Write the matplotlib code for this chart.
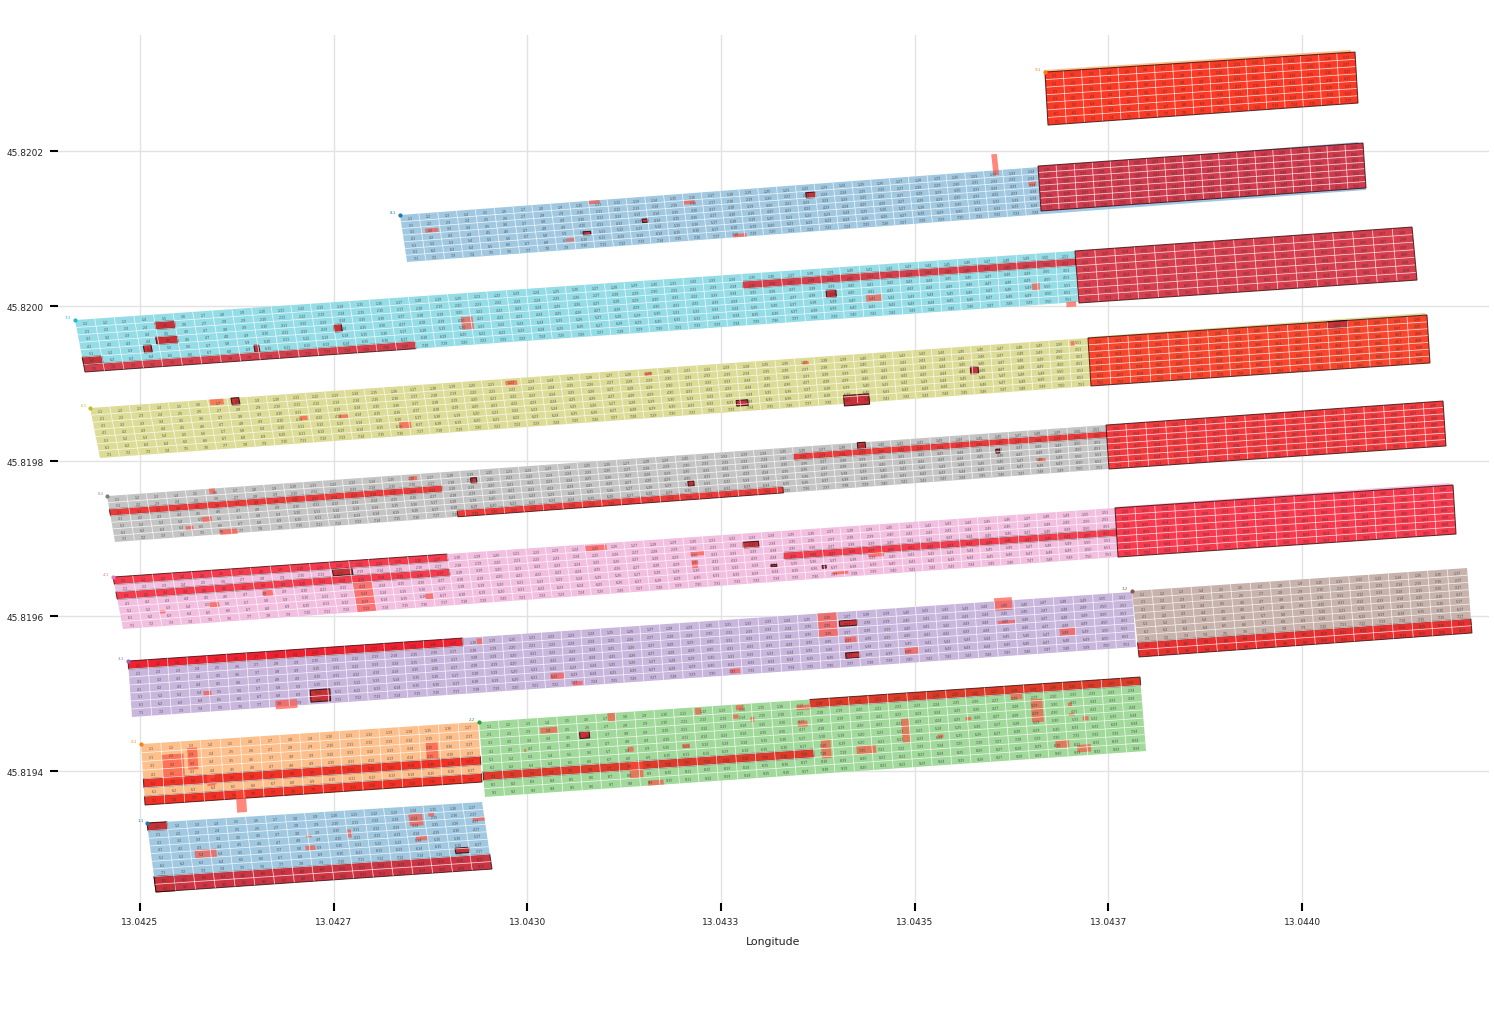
import math
import matplotlib
matplotlib.use("Agg")
import matplotlib.pyplot as plt
from matplotlib.patches import Polygon
from matplotlib.collections import LineCollection

# ---- block table: name, grid size, first column number, fill colour, hot colour
block_names = ["u_blue", "u_cyan_none", "u_yellow", "u_pink", "u_orange",
               "blue8", "cyan7", "yellow6", "grey5", "pink4", "purple3", "brown3b",
               "orange2", "blue1", "green2b",
               "blue8r", "cyan7r", "yellow6r", "grey5r", "pink4r", "orange9r"]
block_rows = [0, 0, 0, 0, 0,
              7, 7, 7, 7, 7, 7, 9,
              7, 9, 9,
              7, 7, 7, 7, 7, 7]
block_cols = [0, 0, 0, 0, 0,
              34, 51, 51, 51, 51, 51, 17,
              17, 17, 34,
              18, 17, 17, 17, 17, 17]
block_first = [1, 1, 1, 1, 1,
               1, 1, 1, 1, 1, 1, 1,
               1, 1, 1,
               35, 52, 52, 52, 52, 1]
block_fill = ["#a0c8e2", "#ffffff", "#dcdc96", "#f3bfe0", "#fdc08c",
              "#a0c8e0", "#94dce6", "#dcdc96", "#c4c4c4", "#f3bfe0", "#c9b6dc", "#c7b3ac",
              "#fdc08c", "#a0c8e0", "#a1d99b",
              "#cf3a4c", "#d83f4e", "#f8452c", "#f23a3e", "#f83a4e", "#fb3a26"]
block_hot = ["#cc3348", "#d63e4c", "#f44a2a", "#f83a4e", "#f93a1e",
             "#cc3348", "#d63e4c", "#f44a2a", "#ef3838", "#f83a4e", "#ef2030", "#e83030",
             "#f23024", "#cc3444", "#dd3a28",
             "#cc3348", "#d63e4c", "#f01010", "#ef3838", "#f83a4e", "#f93a1e"]

# corners in longitude / latitude
lon_tl = [13.0436592, 13.0437069, 13.0437237, 13.0437586, 13.0436669,
          13.0428356, 13.0424161, 13.0424355, 13.0424574, 13.0424651, 13.0424845, 13.0437805,
          13.0425013, 13.0425090, 13.0429376,
          13.0436592, 13.0437069, 13.0437237, 13.0437470, 13.0437586, 13.0436682]
lat_tl = [45.8201794, 45.8200710, 45.8199600, 45.8197407, 45.8203045,
          45.8201174, 45.8199819, 45.8198684, 45.8197548, 45.8196503, 45.8195419, 45.8196323,
          45.8194348, 45.8193329, 45.8194632,
          45.8201806, 45.8200710, 45.8199587, 45.8198464, 45.8197394, 45.8203019]
lon_tr = [13.0440723, 13.0437069, 13.0441580, 13.0441885, 13.0440632,
          13.0436618, 13.0437069, 13.0437237, 13.0437470, 13.0437586, 13.0437805, 13.0442130,
          13.0429363, 13.0429415, 13.0437909,
          13.0440787, 13.0441420, 13.0441613, 13.0441820, 13.0441949, 13.0440684]
lat_tr = [45.8202116, 45.8200710, 45.8199910, 45.8197715, 45.8203303,
          45.8201794, 45.8200710, 45.8199587, 45.8198464, 45.8197394, 45.8196310, 45.8196619,
          45.8194632, 45.8193600, 45.8195213,
          45.8202103, 45.8201019, 45.8199884, 45.8198774, 45.8197690, 45.8203277]
lon_br = [13.0440826, 13.0437069, 13.0441613, 13.0441949, 13.0440671,
          13.0436682, 13.0437108, 13.0437276, 13.0437508, 13.0437625, 13.0437857, 13.0442194,
          13.0429415, 13.0429544, 13.0437986,
          13.0440826, 13.0441484, 13.0441652, 13.0441858, 13.0441988, 13.0440723]
lat_br = [45.8201497, 45.8200710, 45.8199884, 45.8197690, 45.8202632,
          45.8201187, 45.8200052, 45.8198968, 45.8197897, 45.8196761, 45.8195600, 45.8195781,
          45.8193858, 45.8192735, 45.8194258,
          45.8201523, 45.8200335, 45.8199265, 45.8198194, 45.8197058, 45.8202619]
lon_bl = [13.0436682, 13.0437069, 13.0437237, 13.0437586, 13.0436721,
          13.0428447, 13.0424290, 13.0424484, 13.0424677, 13.0424781, 13.0424897, 13.0437896,
          13.0425065, 13.0425207, 13.0429453,
          13.0436631, 13.0437121, 13.0437276, 13.0437508, 13.0437625, 13.0436721]
lat_bl = [45.8201187, 45.8200710, 45.8199587, 45.8197394, 45.8202348,
          45.8200568, 45.8199148, 45.8198039, 45.8196955, 45.8195832, 45.8194697, 45.8195471,
          45.8193561, 45.8192439, 45.8193665,
          45.8201226, 45.8200039, 45.8198968, 45.8197897, 45.8196761, 45.8202335]

# block tags
tag_blocks = ["orange9r", "blue8", "cyan7", "yellow6", "grey5", "pink4", "purple3",
              "brown3b", "orange2", "blue1", "green2b"]
tag_texts = ["9-1", "8-1", "7-1", "6-1", "5-1", "4-1", "3-1", "3-2", "2-1", "1-1", "2-2"]
tag_colors = ["#ff7f0e", "#1f77b4", "#17becf", "#bcbd22", "#7f7f7f", "#e377c2", "#9467bd",
              "#8c564b", "#ff7f0e", "#1f77b4", "#2ca02c"]

# hot cells: (row from, row to, column from, column to, kind) in cell counts of the block
hot_blue8 = [(2.3, 2.9, 1.2, 1.9, "s"), (0, .5, 10, 10.6, "s"), (1, 1.6, 15, 15.6, "s"),
             (3.3, 3.8, 12.7, 13, "d"), (4.5, 5, 9.5, 9.9, "d"), (5.3, 5.8, 8.6, 9, "s"),
             (6.5, 7, 17.4, 18.1, "s"), (1.2, 2, 21.5, 22, "d"), (2.1, 2.7, 33.3, 33.7, "s"),
             (-2.4, .7, 31.5, 31.8, "s")]
hot_cyan7 = [(6, 7, 0, 17, "b"), (1, 2, 34, 51, "b"), (1, 2, 4, 5, "d"), (3, 4, 3.9, 5, "d"),
             (4, 5, 3.2, 3.6, "d"), (5, 6, 0, 1, "d"), (5, 6, 8.8, 9.05, "d"),
             (3, 4, 13, 13.4, "d"), (3.2, 4.9, 19.5, 20.1, "s"), (3, 4, 38.2, 38.7, "d"),
             (4, 5, 40.2, 41, "s"), (6.9, 7.6, 50.4, 50.9, "s"), (4, 5, 48.7, 49.1, "s")]
hot_yellow6 = [(0, .8, 6.1, 6.8, "s"), (0, 1, 7.2, 7.6, "d"), (3.2, 3.8, 10.5, 10.9, "s"),
               (3.4, 3.9, 12.5, 13, "s"), (.3, 1, 21.2, 21.8, "s"), (5, 6, 15.5, 16.1, "s"),
               (5.4, 6.2, 32.8, 33.4, "d"), (5.8, 7.3, 38.3, 39.6, "d"), (3, 4, 44.9, 45.3, "d"),
               (.3, 1, 50.1, 50.3, "s"), (.5, 1, 28.3, 28.7, "s"), (.5, 1, 36.4, 36.7, "s")]
hot_yellow6r = [(0, 1, 12, 13, "d")]
hot_grey5 = [(2, 3, 0, 17, "b"), (6, 7, 17.6, 34.3, "b"), (1, 2, 35, 51, "b"),
             (0, .8, 5.2, 5.5, "s"), (4.2, 5, 4.6, 5.1, "s"), (5.4, 6, 3.7, 4.1, "s"),
             (6.3, 7.1, 5.4, 6.3, "s"), (.3, 1, 15.4, 15.8, "s"), (1.2, 2, 18.5, 18.8, "d"),
             (4.1, 4.9, 29.5, 29.8, "d"), (0, 1, 38.3, 38.7, "d"), (2.6, 3.2, 45.3, 45.5, "d"),
             (4.5, 5.1, 47.4, 47.8, "s")]
hot_pink4 = [(0, 1, 0, 17, "b"), (2, 3, 0, 17, "b"), (3, 4, 34, 51, "b"), (3, 7, 12, 13, "s"),
             (3.2, 4, 7.4, 7.9, "s"), (4.3, 5, 4.6, 5.1, "s"), (4.9, 5.3, 2, 2.3, "s"),
             (5.2, 6, 15.6, 16, "s"), (1, 1.9, 11.1, 12.1, "d"), (.2, 1, 24, 25.1, "s"),
             (2, 2.6, 29.3, 30, "s"), (3.2, 4.3, 29.3, 29.6, "s"), (1.2, 2, 32, 32.8, "d"),
             (4.6, 4.9, 33.3, 33.6, "d"), (5.2, 5.6, 35.9, 36.1, "d"), (6.2, 6.6, 36.4, 37.2, "s"),
             (3.7, 4.5, 38.3, 39.1, "s")]
hot_purple3 = [(0, 1, 0, 17, "b"), (6.2, 7.3, 7.3, 8.4, "s"), (5.2, 6.7, 9.1, 10.1, "d"),
               (4.4, 5, 3.7, 4.1, "s"), (.2, .9, 17.7, 18, "s"), (0, 3, 35, 36, "s"),
               (1.1, 1.8, 36.1, 37, "d"), (3.2, 3.9, 36.3, 36.9, "s"), (5.2, 5.9, 36.3, 37, "d"),
               (5.1, 5.9, 39.3, 40, "s"), (-.4, 1.2, 44, 44.9, "s"), (2.5, 2.9, 44.1, 45, "s"),
               (4, 4.9, 47.2, 48, "s"), (5.2, 6, 21.3, 22, "s"), (6.4, 6.9, 22.4, 22.9, "s"),
               (6.2, 6.8, 30.4, 30.9, "s")]
hot_brown3b = [(7, 9, 0, 17, "b")]
hot_orange2 = [(4, 5, 0, 17, "b"), (6, 7, 0, 17, "b"), (1.4, 4.3, 1, 2.1, "s"),
               (.8, 3.3, 2.3, 2.8, "s"), (2, 3.9, 14.3, 14.9, "s"), (4, 5.3, 3.2, 3.6, "s"),
               (6, 8.6, 4.6, 5.1, "s")]
hot_blue1 = [(7, 9, 0, 17, "b"), (0, 1, 0, 1, "d"), (7, 9, 0, 1, "d"), (3.9, 5, 2.2, 3.3, "s"),
             (2.9, 3.2, 7.9, 8.2, "s"), (4.3, 4.9, 7.8, 8.3, "s"), (2.5, 3.6, 10, 10.2, "s"),
             (1, 2.6, 13.2, 13.9, "s"), (1, 1.5, 14.2, 14.5, "s"), (4, 4.6, 13.4, 14, "s"),
             (2, 2.5, 16.4, 17, "s"), (5.9, 6.6, 15.3, 16, "d")]
hot_green2b = [(6, 7, 0, 17, "b"), (0, 1, 17, 34, "b"), (0, 1, 6.6, 7, "s"), (1.2, 1.9, 3.1, 4, "s"),
               (2, 2.8, 5.1, 5.6, "d"), (3.6, 4, 2.2, 2.3, "s"), (4.2, 4.8, 7.5, 7.8, "s"),
               (4.3, 4.8, 10.3, 10.7, "s"), (.1, .9, 11.1, 11.4, "s"), (.1, .7, 13.2, 13.6, "s"),
               (1.2, 1.7, 13, 13.3, "s"), (1.6, 2.2, 13.9, 14.1, "s"), (.6, 1.2, 16.3, 17, "s"),
               (2.5, 3.2, 16.3, 16.8, "s"), (6, 8, 7.5, 8.2, "s"), (8.4, 9, 8.4, 9.2, "s"),
               (1, 1.7, 27.3, 27.9, "s"), (1.8, 4.6, 28.3, 28.9, "s"), (3.4, 3.8, 24.9, 25.2, "s"),
               (5.3, 5.7, 23.4, 23.7, "s"), (2.5, 3, 30.2, 30.4, "s"), (3.8, 4.1, 30.2, 30.5, "s"),
               (4.3, 4.8, 30.9, 31.2, "s"), (7, 7.9, 29.4, 30.1, "s"), (7.7, 8.6, 30.5, 31.2, "s"),
               (3.1, 6, 21.6, 22, "s"), (6, 7, 19.2, 20.2, "s"), (5, 7.2, 17.4, 17.9, "s")]
hot_by_block = {"blue8": hot_blue8, "cyan7": hot_cyan7, "yellow6": hot_yellow6,
                "yellow6r": hot_yellow6r, "grey5": hot_grey5, "pink4": hot_pink4,
                "purple3": hot_purple3, "brown3b": hot_brown3b, "orange2": hot_orange2,
                "blue1": hot_blue1, "green2b": hot_green2b}

# axis
x_ticks = [13.0425, 13.04275, 13.0430, 13.04325, 13.0435, 13.04375, 13.0440]
x_tick_labels = ["13.0425", "13.0427", "13.0430", "13.0433", "13.0435", "13.0437", "13.0440"]
y_ticks = [45.8194, 45.8196, 45.8198, 45.8200, 45.8202]
y_tick_labels = ["45.8194", "45.8196", "45.8198", "45.8200", "45.8202"]

fig = plt.figure(figsize=(14.94, 10.12), dpi=100)
ax = fig.add_axes([58 / 1494, 1 - 904 / 1012, (1489 - 58) / 1494, (904 - 36) / 1012])
ax.set_xlim(13.04239415, 13.04424136)
ax.set_ylim(45.81922968, 45.82034968)
for s in ax.spines.values():
    s.set_visible(False)
ax.grid(True, color="#e2e2e2", lw=1.0)
ax.set_axisbelow(True)
ax.set_xticks(x_ticks, x_tick_labels)
ax.set_yticks(y_ticks, y_tick_labels)
ax.tick_params(axis="both", length=6, width=1.5, labelsize=6.5, color="black", labelcolor="#222222")
ax.tick_params(axis="x", pad=3.8)
ax.tick_params(axis="y", pad=4.4)
ax.set_xlabel("Longitude", fontsize=7.8, labelpad=7.4, color="#222222")


def corner(i):
    return ((lon_tl[i], lat_tl[i]), (lon_tr[i], lat_tr[i]),
            (lon_br[i], lat_br[i]), (lon_bl[i], lat_bl[i]))


def point(i, r, c):
    tl, tr, br, bl = corner(i)
    u = c / block_cols[i]
    v = r / block_rows[i]
    tx, ty = tl[0] + (tr[0] - tl[0]) * u, tl[1] + (tr[1] - tl[1]) * u
    bx, by = bl[0] + (br[0] - bl[0]) * u, bl[1] + (br[1] - bl[1]) * u
    return tx + (bx - tx) * v, ty + (by - ty) * v


for i, name in enumerate(block_names):
    nr, nc = block_rows[i], block_cols[i]
    z = 2 + i * 0.01 if nr else 1.5
    if name == "u_cyan_none":
        continue
    ax.add_patch(Polygon(corner(i), closed=True, fc=block_fill[i], ec="none", zorder=z))
    if not nr:
        continue
    for (r0, r1, c0, c1, kind) in hot_by_block.get(name, []):
        poly = [point(i, r0, c0), point(i, r0, c1), point(i, r1, c1), point(i, r1, c0)]
        if kind == "b":
            ax.add_patch(Polygon(poly, closed=True, fc=block_hot[i], ec=(0.15, 0.03, 0.03, 0.75),
                                 lw=0.7, zorder=z + 0.002))
        elif kind == "d":
            ax.add_patch(Polygon(poly, closed=True, fc="#c93038", ec=(0.12, 0.03, 0.03, 0.85),
                                 lw=0.75, zorder=z + 0.005))
        else:
            ax.add_patch(Polygon(poly, closed=True, fc="#ff4a3a", ec="none", alpha=0.66,
                                 zorder=z + 0.004))
    lines = [[point(i, r, 0), point(i, r, nc)] for r in range(1, nr)]
    lines += [[point(i, 0, c), point(i, nr, c)] for c in range(1, nc)]
    ax.add_collection(LineCollection(lines, colors="#ffffff", linewidths=0.55, alpha=0.8,
                                     zorder=z + 0.006))
    if name.endswith("r"):
        ax.add_patch(Polygon(corner(i), closed=True, fc="none", ec=(0.2, 0.05, 0.05, 0.8), lw=0.75,
                             zorder=z + 0.008))
    tl, tr, _, _ = corner(i)
    angle = math.degrees(math.atan2(tr[1] - tl[1], tr[0] - tl[0]))
    for r in range(nr):
        for c in range(nc):
            x, y = point(i, r + 0.5, c + 0.5)
            ax.text(x, y, f"{r + 1}-{block_first[i] + c}", fontsize=2.3, color="#303030",
                    alpha=0.8, ha="center", va="center", rotation=angle, rotation_mode="anchor",
                    zorder=z + 0.009)

for b, t, col in zip(tag_blocks, tag_texts, tag_colors):
    i = block_names.index(b)
    x, y = lon_tl[i], lat_tl[i]
    ax.scatter([x], [y], s=9, color=col, zorder=6, linewidths=0)
    ax.annotate(t, (x, y), xytext=(-2.5, 1), textcoords="offset points", fontsize=2.8,
                color=col, ha="right", va="bottom", zorder=6)

fig.savefig("out.png", dpi=100, facecolor="white")
